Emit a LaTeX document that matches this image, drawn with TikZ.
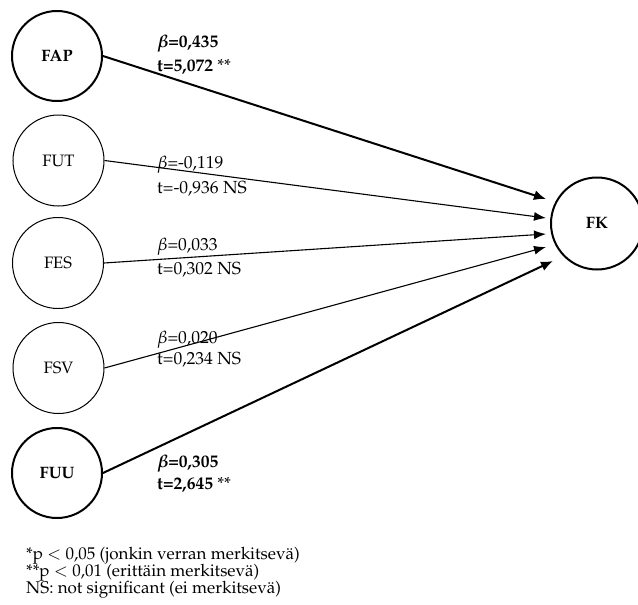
\documentclass[tikz,border=0pt]{standalone}
\usepackage[T1]{fontenc}
\usepackage{mathpazo}
\usepackage{bm}
\usetikzlibrary{arrows.meta}
\begin{document}
\begin{tikzpicture}[x=1pt,y=-1pt,
  thickc/.style={circle,draw,line width=2pt,minimum size=90pt,inner sep=0pt,font=\fontsize{16.5}{18}\selectfont\bfseries},
  thinc/.style={circle,draw,line width=1pt,minimum size=91pt,inner sep=0pt,font=\fontsize{16.5}{18}\selectfont},
  thickarr/.style={line width=2pt,-{Latex[length=12pt,width=10pt]}},
  thinarr/.style={line width=1.1pt,-{Latex[length=12pt,width=9pt]}},
  lab/.style={anchor=base west,inner sep=0pt,font=\fontsize{17.5}{19}\selectfont},
  blab/.style={anchor=base west,inner sep=0pt,font=\fontsize{17.5}{19}\selectfont\bfseries},
  foot/.style={anchor=base west,inner sep=0pt,font=\fontsize{17}{18}\selectfont},
]
\useasboundingbox (0,0) rectangle (638,605);
% circles
\node[thickc] (FAP) at (57,56) {FAP};
\node[thinc] (FUT) at (58.5,160.5) {FUT};
\node[thinc] (FES) at (58,263) {FES};
\node[thinc] (FSV) at (58.5,368) {FSV};
\node[thickc] (FUU) at (57,473) {FUU};
\node[thickc,minimum size=92pt] (FK) at (597,223.5) {FK};
% arrow ends near FK
\coordinate (e1) at (546,199);
\coordinate (e2) at (546,218);
\coordinate (e3) at (546,234);
\coordinate (e4) at (546,247);
\coordinate (e5) at (553,261);
% connectors
\draw[thickarr] (FAP.east) -- (e1);
\draw[thinarr] (FUT.east) -- (e2);
\draw[thinarr] (FES.east) -- (e3);
\draw[thinarr] (FSV.east) -- (e4);
\draw[thickarr] (FUU.east) -- (e5);
% labels
\node[blab] (b1) at (157,47) {$\bm{\beta}$=0,435};
\node[blab] (t1) at (157,71) {t=5,072 {\mdseries **}};
\node[lab] (b2) at (157,168) {$\beta$=-0,119};
\node[lab] (t2) at (157,193) {t=-0,936 NS};
\node[lab] (b3) at (157,250.5) {$\beta$=0,033};
\node[lab] (t3) at (157,274) {t=0,302 NS};
\node[lab] (b4) at (157,343.5) {$\beta$=0,020};
\node[lab] (t4) at (157,364.5) {t=0,234 NS};
\node[blab] (b5) at (157,467) {$\bm{\beta}$=0,305};
\node[blab] (t5) at (157,489.5) {t=2,645 {\mdseries **}};
% footnote
\node[foot] (f1) at (26,559) {*p $<$ 0,05 (jonkin verran merkitsev\"a)};
\node[foot] (f2) at (26,576) {**p $<$ 0,01 (eritt\"ain merkitsev\"a)};
\node[foot] (f3) at (26,593) {NS: not significant (ei merkitsev\"a)};
\end{tikzpicture}
\end{document}
